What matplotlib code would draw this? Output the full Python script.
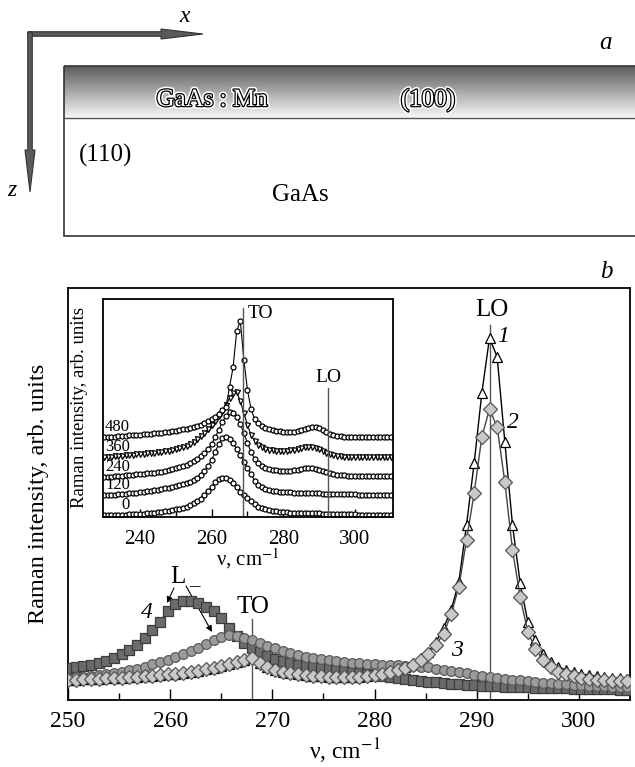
import matplotlib.pyplot as plt
import matplotlib.patheffects as pe
import numpy as np

plt.rcParams['font.family'] = ['Liberation Serif', 'DejaVu Serif']
plt.rcParams['mathtext.fontset'] = 'stix'

# main panel: wavenumber grid (cm^-1) and intensities
nu = np.arange(250, 305, 0.75)
curve1 = [20, 20, 21, 21, 21, 22, 22, 22, 23, 23,
	24, 24, 25, 26, 26, 27, 28, 29, 31, 32,
	34, 36, 38, 40, 42, 37, 33, 30, 28, 27,
	26, 25, 24, 24, 23, 23, 23, 23, 23, 24,
	26, 27, 28, 30, 33, 37, 42, 48, 58, 72,
	90, 118, 175, 237, 307, 362, 343, 258, 175, 117,
	78, 60, 46, 38, 33, 30, 28, 26, 25, 24,
	23, 22, 22, 21]
curve2 = [20, 20, 21, 21, 21, 22, 22, 22, 23, 23,
	24, 24, 25, 26, 26, 27, 28, 29, 31, 32,
	34, 36, 38, 40, 42, 37, 33, 30, 28, 27,
	26, 25, 24, 24, 23, 23, 23, 23, 23, 24,
	25, 26, 28, 30, 32, 35, 40, 46, 55, 66,
	86, 113, 160, 207, 263, 291, 273, 218, 150, 103,
	68, 51, 40, 33, 28, 26, 24, 22, 21, 20,
	20, 19, 19, 19]
curve3 = [22, 23, 23, 24, 25, 26, 27, 28, 30, 31,
	33, 36, 38, 40, 43, 46, 49, 52, 56, 60,
	63, 65, 64, 62, 60, 57, 54, 52, 49, 47,
	45, 43, 42, 41, 40, 39, 38, 37, 37, 36,
	36, 35, 35, 35, 34, 34, 33, 33, 31, 30,
	29, 28, 27, 25, 24, 23, 22, 21, 20, 20,
	19, 18, 17, 17, 16, 16, 15, 15, 14, 14,
	14, 13, 13, 13]
curve4 = [32, 33, 34, 35, 37, 39, 42, 46, 50, 55,
	62, 70, 78, 89, 96, 99, 99, 97, 93, 89,
	82, 72, 64, 57, 52, 48, 44, 41, 39, 37,
	35, 34, 33, 32, 31, 30, 29, 28, 27, 26,
	25, 24, 23, 22, 21, 20, 19, 18, 18, 17,
	16, 16, 15, 15, 14, 14, 14, 13, 13, 13,
	13, 12, 12, 12, 12, 12, 11, 11, 11, 11,
	11, 11, 10, 10]

# inset: spectra after 0...480 s, shifted upwards
inset_nu = np.arange(230, 311, 1.0)
inset_0 = [2, 2, 2, 2, 2, 2, 2, 3, 3, 3,
	3, 3, 4, 4, 4, 5, 5, 6, 6, 7,
	8, 8, 9, 10, 12, 14, 16, 18, 22, 26,
	30, 35, 38, 39, 39, 37, 34, 30, 25, 22,
	19, 16, 13, 10, 9, 8, 7, 6, 6, 5,
	5, 5, 4, 4, 4, 4, 4, 4, 4, 4,
	4, 3, 3, 3, 3, 3, 3, 3, 3, 3,
	3, 2, 2, 2, 2, 2, 2, 2, 2, 2,
	2]
inset_120 = [22, 22, 22, 22, 23, 23, 23, 24, 24, 24,
	25, 25, 26, 26, 27, 27, 28, 29, 29, 30,
	31, 32, 33, 34, 35, 37, 39, 42, 46, 51,
	57, 65, 73, 79, 80, 78, 74, 68, 62, 55,
	49, 43, 36, 32, 30, 28, 27, 26, 26, 25,
	25, 25, 25, 24, 24, 24, 24, 24, 24, 24,
	24, 23, 23, 23, 23, 23, 23, 23, 23, 23,
	23, 22, 22, 22, 22, 22, 22, 22, 22, 22,
	22]
inset_240 = [40, 40, 40, 41, 41, 41, 42, 42, 42, 43,
	43, 43, 44, 44, 44, 45, 45, 46, 47, 48,
	49, 50, 51, 52, 54, 56, 58, 61, 64, 68,
	73, 80, 87, 95, 101, 105, 104, 100, 93, 84,
	74, 65, 58, 54, 51, 49, 48, 47, 47, 46,
	46, 46, 46, 47, 47, 48, 49, 49, 49, 48,
	47, 46, 45, 44, 43, 42, 42, 42, 41, 41,
	41, 41, 41, 41, 41, 41, 41, 41, 41, 41,
	41]
inset_360 = [60, 60, 60, 61, 61, 61, 62, 62, 62, 63,
	63, 63, 64, 64, 64, 65, 65, 66, 66, 67,
	68, 69, 70, 71, 73, 75, 78, 81, 84, 88,
	92, 96, 101, 106, 112, 119, 124, 125, 116, 104,
	92, 82, 76, 72, 70, 68, 67, 67, 66, 66,
	66, 66, 67, 67, 68, 69, 70, 70, 70, 69,
	68, 66, 64, 63, 62, 61, 61, 60, 60, 60,
	60, 60, 60, 60, 60, 60, 60, 60, 60, 60,
	60]
inset_480 = [80, 80, 80, 80, 81, 81, 81, 82, 82, 82,
	82, 83, 83, 83, 84, 84, 84, 85, 85, 86,
	86, 87, 88, 88, 89, 90, 91, 92, 94, 96,
	98, 100, 103, 107, 110, 130, 150, 186, 196, 157,
	127, 108, 98, 94, 91, 89, 88, 87, 86, 86,
	85, 85, 85, 85, 86, 87, 88, 89, 90, 90,
	89, 87, 85, 83, 82, 81, 81, 80, 80, 80,
	80, 80, 80, 80, 80, 80, 80, 80, 80, 80,
	80]
inset_labels = ['0', '120', '240', '360', '480']
inset_label_y = [12, 32, 50, 70, 90]

W, H = 635, 767


# axes placed by pixel box (left, top, right, bottom)
def px_axes(fig, left, top, right, bottom):
	return fig.add_axes([left / W, 1 - bottom / H, (right - left) / W, (bottom - top) / H])


def draw_scheme(fig):
	ax = fig.add_axes([0, 1 - 250 / H, 1, 250 / H])
	grad = np.linspace(0.36, 0.97, 100).reshape(-1, 1)
	ax.imshow(grad, cmap='gray', vmin=0, vmax=1, extent=[64, W + 5, 118, 66], aspect='auto', zorder=1)
	ax.set_xlim(0, W)
	ax.set_ylim(250, 0)
	ax.axis('off')
	ax.add_patch(plt.Rectangle((64, 66), W, 170, fill=False, ec='#333333', lw=1.2, zorder=3))
	ax.plot([64, W], [118, 118], color='#555555', lw=1.0, zorder=3)

	ax.arrow(28, 34, 175, 0, width=4.5, head_width=10, head_length=42, length_includes_head=True,
		fc='#5a5a5a', ec='#333333', lw=0.8, zorder=4)
	ax.arrow(30, 32, 0, 160, width=4.5, head_width=10, head_length=42, length_includes_head=True,
		fc='#5a5a5a', ec='#333333', lw=0.8, zorder=4)
	ax.text(185, 17, 'x', style='italic', fontsize=17, ha='center', va='center')
	ax.text(12, 190, 'z', style='italic', fontsize=17, ha='center', va='center')
	ax.text(606, 43, 'a', style='italic', fontsize=18, ha='center', va='center')

	outline = [pe.withStroke(linewidth=4, foreground='white'), pe.withStroke(linewidth=1.8, foreground='black')]
	ax.text(212, 100, 'GaAs : Mn', color='white', fontsize=18, ha='center', va='center', path_effects=outline, zorder=5)
	ax.text(428, 100, '(100)', color='white', fontsize=18, ha='center', va='center', path_effects=outline, zorder=5)
	ax.text(79, 155, '(110)', fontsize=18, ha='left', va='center')
	ax.text(300, 195, 'GaAs', fontsize=18, ha='center', va='center')


def draw_main(fig):
	ax = px_axes(fig, 68, 288, 630, 700)
	ax.set_xlim(250, 305)
	ax.set_ylim(0, 412)

	ax.plot(nu, curve1, '-^', color='black', lw=1.0, ms=7.5, mfc='white', mec='black', mew=0.9, zorder=3)
	ax.plot(nu, curve4, '-s', color='#3a3a3a', lw=1.0, ms=6.5, mfc='#6b6b6b', mec='#3c3c3c', mew=0.9, zorder=4)
	ax.plot(nu, curve3, '-o', color='#555555', lw=1.0, ms=7, mfc='#9b9b9b', mec='#5a5a5a', mew=0.9, zorder=5)
	ax.plot(nu, curve2, '-D', color='#444444', lw=1.0, ms=7, mfc='#c9c9c9', mec='#555555', mew=0.9, zorder=6)

	ax.plot([268, 268], [0, 81], color='#555555', lw=1.0, zorder=2)
	ax.plot([291.25, 291.25], [0, 375], color='#555555', lw=1.0, zorder=2)

	ax.text(268.1, 93, 'TO', fontsize=18, ha='center', va='center')
	ax.text(291.5, 390, 'LO', fontsize=18, ha='center', va='center')
	ax.text(260.77, 123, 'L', fontsize=18, ha='center', va='center')
	ax.text(262.4, 113, '\u2013', fontsize=15, ha='center', va='center')
	arrow = dict(arrowstyle='-|>', color='black', lw=0.8, mutation_scale=9, shrinkA=0, shrinkB=0)
	ax.annotate('', xy=(259.69, 97), xytext=(260.37, 112), arrowprops=arrow)
	ax.annotate('', xy=(264.09, 68), xytext=(261.55, 114), arrowprops=arrow)
	ax.text(257.73, 87, '4', style='italic', fontsize=17, ha='center', va='center')
	ax.text(288.07, 50, '3', style='italic', fontsize=17, ha='center', va='center')
	ax.text(292.57, 363, '1', style='italic', fontsize=17, ha='center', va='center')
	ax.text(293.55, 277, '2', style='italic', fontsize=17, ha='center', va='center')

	ax.set_xticks(range(250, 301, 10))
	ax.set_xticks(range(255, 305, 10), minor=True)
	ax.set_yticks([])
	ax.tick_params(axis='x', which='major', direction='in', length=8, width=1, labelsize=17, pad=8)
	ax.tick_params(axis='x', which='minor', direction='in', length=5, width=1)
	for s in ax.spines.values():
		s.set_linewidth(1.3)
	ax.set_xlabel('\u03bd, cm$^{-1}$', fontsize=17)
	ax.xaxis.set_label_coords(0.493, -0.088)
	ax.set_ylabel('Raman intensity, arb. units', fontsize=17.5)
	ax.yaxis.set_label_coords(-0.034, 0.5)


def draw_inset(fig):
	ax = px_axes(fig, 103, 299, 393, 517)
	ax.set_xlim(229.7, 310.6)
	ax.set_ylim(0, 218)
	ax.set_facecolor('white')

	curves = [inset_0, inset_120, inset_240, inset_360, inset_480]
	for i, c in enumerate(curves):
		marker = 'v' if inset_labels[i] == '360' else 'o'
		ax.plot(inset_nu, c, '-' + marker, color='black', lw=0.8, ms=3.6, mfc='white', mec='black', mew=0.9)
		ax.text(237.2, inset_label_y[i], inset_labels[i], fontsize=12, ha='right', va='center')

	ax.plot([268.8, 268.8], [0, 209], color='#555555', lw=1.0)
	ax.plot([292.5, 292.5], [0, 129], color='#555555', lw=1.0)
	ax.text(270.0, 203, 'TO', fontsize=14, ha='left', va='center')
	ax.text(292.5, 139, 'LO', fontsize=14, ha='center', va='center')

	ax.set_xticks([240, 260, 280, 300])
	ax.set_xticks([250, 270, 290], minor=True)
	ax.set_yticks([])
	ax.tick_params(axis='x', which='major', direction='in', length=6, width=1, labelsize=15, pad=9)
	ax.tick_params(axis='x', which='minor', direction='in', length=4, width=1)
	for s in ax.spines.values():
		s.set_linewidth(1.3)
	ax.set_xlabel('\u03bd, cm$^{-1}$', fontsize=15)
	ax.xaxis.set_label_coords(0.5, -0.135)
	ax.set_ylabel('Raman intensity, arb. units', fontsize=13.5)
	ax.yaxis.set_label_coords(-0.052, 0.5)


def plot():
	fig = plt.figure(figsize=(W / 100, H / 100), dpi=100)
	draw_scheme(fig)
	draw_main(fig)
	draw_inset(fig)
	fig.text(606 / W, 1 - 272 / H, 'b', style='italic', fontsize=18, ha='center', va='center')
	fig.savefig('out.png', dpi=100)


def main():
	plot()


if __name__ == "__main__":
	main()
